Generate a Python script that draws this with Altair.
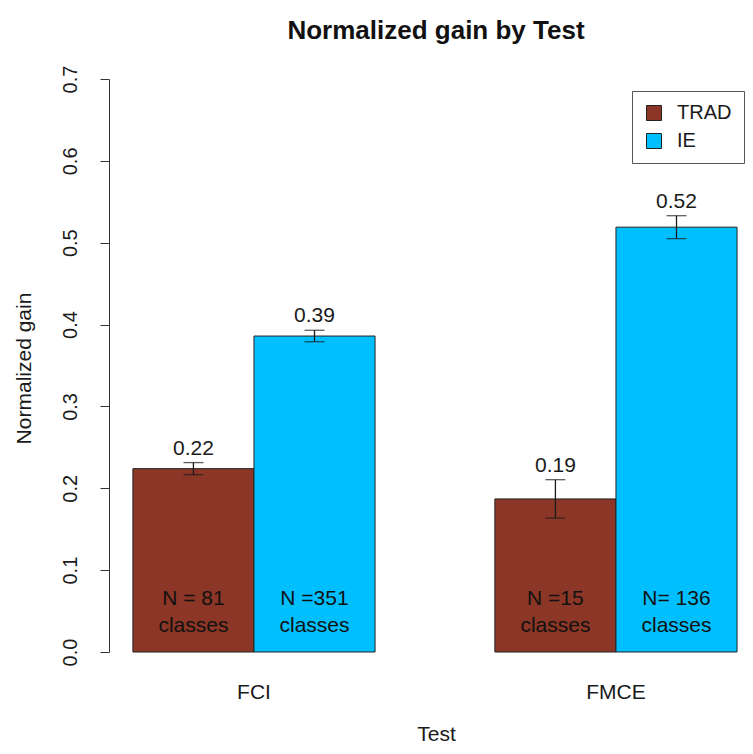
import altair as alt
import pandas as pd

tests = ["FCI", "FCI", "FMCE", "FMCE"]
groups = ["TRAD", "IE", "TRAD", "IE"]
gain = [0.224, 0.386, 0.187, 0.519]
se = [0.0074, 0.007, 0.0235, 0.014]
value_labels = ["0.22", "0.39", "0.19", "0.52"]
n_labels = ["N = 81\nclasses", "N =351\nclasses", "N =15\nclasses", "N= 136\nclasses"]
y_ticks = [0.0, 0.1, 0.2, 0.3, 0.4, 0.5, 0.6, 0.7]
group_order = ["TRAD", "IE"]
group_colors = ["#8B3626", "#00BFFF"]

df = pd.DataFrame({
    "Test": tests,
    "Group": groups,
    "gain": gain,
    "se": se,
    "label": value_labels,
    "nlab": n_labels,
})
df["lower"] = df["gain"] - df["se"]
df["upper"] = df["gain"] + df["se"]

FONT = "Liberation Sans"
TXT = "#1a1a1a"

x_enc = alt.X(
    "Test:N",
    sort=["FCI", "FMCE"],
    scale=alt.Scale(paddingInner=0.331, paddingOuter=0.044, align=0.75),
    axis=alt.Axis(
        title="Test", domain=False, ticks=False, tickSize=0, labelAngle=0,
        labelFontSize=21, labelPadding=40, labelBaseline="middle",
        labelColor=TXT, titleFontSize=21, titleFontWeight="normal",
        titleColor=TXT, titleX=327, titleY=92, titleBaseline="bottom",
        titleAlign="center",
    ),
)
xoff = alt.XOffset("Group:N", sort=group_order, scale=alt.Scale(paddingInner=0, paddingOuter=0))

y_axis = alt.Axis(
    title="Normalized gain", values=y_ticks, format=".1f", grid=False,
    domainColor="#333333", tickColor="#333333", tickSize=9,
    labelAngle=270, labelAlign="center", labelBaseline="middle",
    labelPadding=30, labelFontSize=20, labelColor=TXT,
    titleFontSize=21, titleFontWeight="normal", titleColor=TXT,
    titleAngle=270, titleX=-85, titleY=289, titleAlign="center",
    titleBaseline="middle",
)

base = alt.Chart(df)

bars = base.mark_bar(stroke="#222222", strokeWidth=1).encode(
    x=x_enc,
    xOffset=xoff,
    y=alt.Y("gain:Q", scale=alt.Scale(domain=[0, 0.7], nice=False, zero=True), axis=y_axis),
    color=alt.Color(
        "Group:N",
        sort=group_order,
        scale=alt.Scale(domain=group_order, range=group_colors),
        legend=alt.Legend(
            title=None, orient="none", legendX=523, legendY=12,
            symbolType="square", symbolSize=225, symbolStrokeColor="#222222",
            symbolStrokeWidth=1, labelFontSize=20, labelColor=TXT,
            labelFont=FONT, rowPadding=8, padding=12, strokeColor="#555555",
            labelOffset=13,
        ),
    ),
)

err = base.mark_rule(color=TXT, strokeWidth=1.3).encode(
    x=alt.X("Test:N", sort=["FCI", "FMCE"]),
    xOffset=xoff,
    y="lower:Q",
    y2="upper:Q",
)

cap_hi = base.mark_tick(color=TXT, thickness=1.3, size=20).encode(
    x=alt.X("Test:N", sort=["FCI", "FMCE"]),
    xOffset=xoff,
    y="upper:Q",
)
cap_lo = base.mark_tick(color=TXT, thickness=1.3, size=20).encode(
    x=alt.X("Test:N", sort=["FCI", "FMCE"]),
    xOffset=xoff,
    y="lower:Q",
)

vals = base.mark_text(fontSize=21, font=FONT, color=TXT, baseline="alphabetic", dy=-8).encode(
    x=alt.X("Test:N", sort=["FCI", "FMCE"]),
    xOffset=xoff,
    y="upper:Q",
    text="label:N",
)

nt = base.mark_text(
    fontSize=21, font=FONT, color="#111111", baseline="alphabetic",
    lineBreak="\n", lineHeight=27, dy=-47,
).encode(
    x=alt.X("Test:N", sort=["FCI", "FMCE"]),
    xOffset=xoff,
    y=alt.datum(0),
    text="nlab:N",
)

chart = alt.layer(bars, err, cap_hi, cap_lo, vals, nt).properties(
    width=636,
    height=573,
    padding={"left": 101, "top": 71, "right": 0, "bottom": 94},
    autosize=alt.AutoSizeParams(type="none"),
    title=alt.Title(
        "Normalized gain by Test", fontSize=26, fontWeight="bold", font=FONT,
        color="#111111", anchor="middle", offset=21, dx=9,
    ),
).configure(font=FONT).configure_view(stroke=None).configure_axis(
    labelFont=FONT, titleFont=FONT
)

chart.save("out.html", embed_options={"renderer": "svg", "actions": False})
